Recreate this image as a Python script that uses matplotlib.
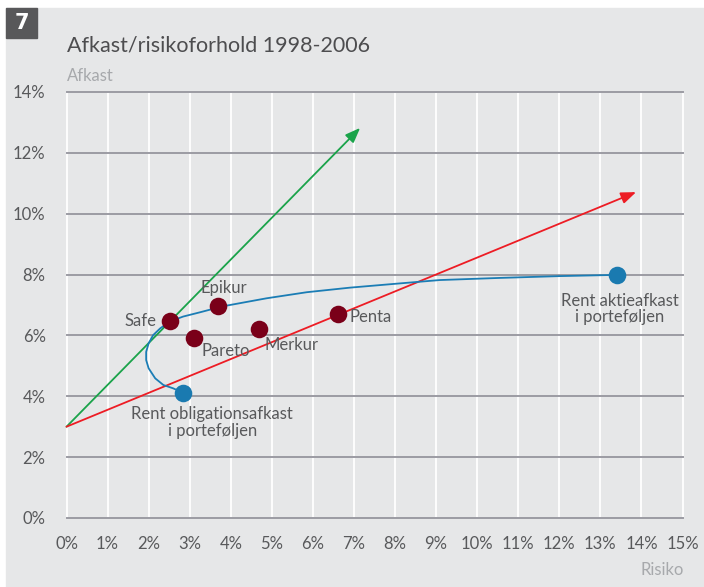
import matplotlib.pyplot as plt
from matplotlib.patches import Rectangle

plt.rcParams['font.family'] = ['Liberation Sans Narrow', 'DejaVu Sans Condensed', 'Lato',
                               'DejaVu Sans']

# funds: (risk %, return %)
funds = ['Safe', 'Epikur', 'Pareto', 'Merkur', 'Penta']
fund_risk = [2.52, 3.70, 3.11, 4.69, 6.62]
fund_ret = [6.48, 6.97, 5.90, 6.21, 6.69]

# pure bond / pure equity portfolios
bond_risk, bond_ret = 2.84, 4.11
equity_risk, equity_ret = 13.40, 7.99

# frontier curve
curve_risk = [2.84, 2.60, 2.36, 2.16, 2.00, 1.94, 1.94, 2.00, 2.11, 2.28, 2.52,
              2.84, 3.25, 3.70, 3.90, 4.87, 5.85, 6.90, 8.12, 9.09, 10.55, 12.02, 13.40]
curve_ret = [4.11, 4.26, 4.37, 4.59, 4.92, 5.19, 5.46, 5.74, 6.01, 6.23, 6.46,
             6.62, 6.76, 6.92, 6.98, 7.22, 7.42, 7.57, 7.71, 7.82, 7.89, 7.95, 7.99]

# capital market lines
green_line = [(0, 3.0), (7.15, 12.82)]
red_line = [(0, 3.0), (13.87, 10.71)]

bg = '#e6e7e8'
txt = '#58595b'

fig = plt.figure(figsize=(7.04, 5.87), dpi=100)
fig.patches.append(Rectangle((6 / 704, 0), 1, 1 - 8 / 587, transform=fig.transFigure,
                             color=bg, zorder=-10))
fig.patches.append(Rectangle((6 / 704, 1 - 38 / 587), 31 / 704, 30 / 587,
                             transform=fig.transFigure, color='#58585a', zorder=-5))
fig.text(21.5 / 704, 1 - 23 / 587, '7', color='white', fontsize=15, fontweight='bold',
         ha='center', va='center', family='DejaVu Sans')
fig.text(67 / 704, 1 - 45 / 587, 'Afkast/risikoforhold 1998-2006', color='#4d4d4f',
         fontsize=15.5, ha='left', va='center')
fig.text(67 / 704, 1 - 76 / 587, 'Afkast', color='#a7a9ac', fontsize=12,
         ha='left', va='center')
fig.text(684 / 704, 1 - 570 / 587, 'Risiko', color='#a7a9ac', fontsize=12,
         ha='right', va='center')

ax = fig.add_axes([66.5 / 704, 1 - 518 / 587, 616 / 704, 426 / 587])
ax.patch.set_alpha(0)
ax.set_xlim(0, 15)
ax.set_ylim(0, 14)
for s in ax.spines.values():
    s.set_visible(False)

for xv in range(0, 16):
    ax.plot([xv, xv], [0, 14], color='white', lw=1.3, zorder=1, clip_on=False)
for yv in range(0, 15, 2):
    ax.plot([0, 15], [yv, yv], color='#9b9ba3', lw=1.4, zorder=2, clip_on=False)

ax.set_xticks(range(0, 16))
ax.set_xticklabels([f'{v}%' for v in range(0, 16)])
ax.set_yticks(range(0, 15, 2))
ax.set_yticklabels([f'{v}%' for v in range(0, 15, 2)])
ax.tick_params(length=0, labelsize=12, labelcolor=txt)
ax.tick_params(axis='x', pad=13)
ax.tick_params(axis='y', pad=15)

for line, col in [(green_line, '#1aa34a'), (red_line, '#ed1c24')]:
    (x0, y0), (x1, y1) = line
    ax.annotate('', xy=(x1, y1), xytext=(x0, y0),
                arrowprops=dict(arrowstyle='-|>,head_length=0.9,head_width=0.35',
                                color=col, lw=1.3, shrinkA=0, shrinkB=0), zorder=3)

ax.plot(curve_risk, curve_ret, color='#1b7db5', lw=1.3, zorder=4)

ax.scatter([bond_risk, equity_risk], [bond_ret, equity_ret], s=160, color='#1a7ab0',
           zorder=5, linewidths=0)
ax.scatter(fund_risk, fund_ret, s=160, color='#7a0019', zorder=5, linewidths=0)

lab = dict(fontsize=12, color=txt, va='center')
ax.text(2.2, 6.48, 'Safe', ha='right', **lab)
ax.text(3.84, 7.55, 'Epikur', ha='center', **lab)
ax.text(3.29, 5.50, 'Pareto', ha='left', **lab)
ax.text(4.83, 5.69, 'Merkur', ha='left', **lab)
ax.text(6.90, 6.60, 'Penta', ha='left', **lab)
ax.text(3.55, 3.14, 'Rent obligationsafkast\ni porteføljen', ha='center',
        linespacing=1.05, **lab)
ax.text(13.47, 6.87, 'Rent aktieafkast\ni porteføljen', ha='center',
        linespacing=1.05, **lab)

fig.savefig('out.png', dpi=100)
